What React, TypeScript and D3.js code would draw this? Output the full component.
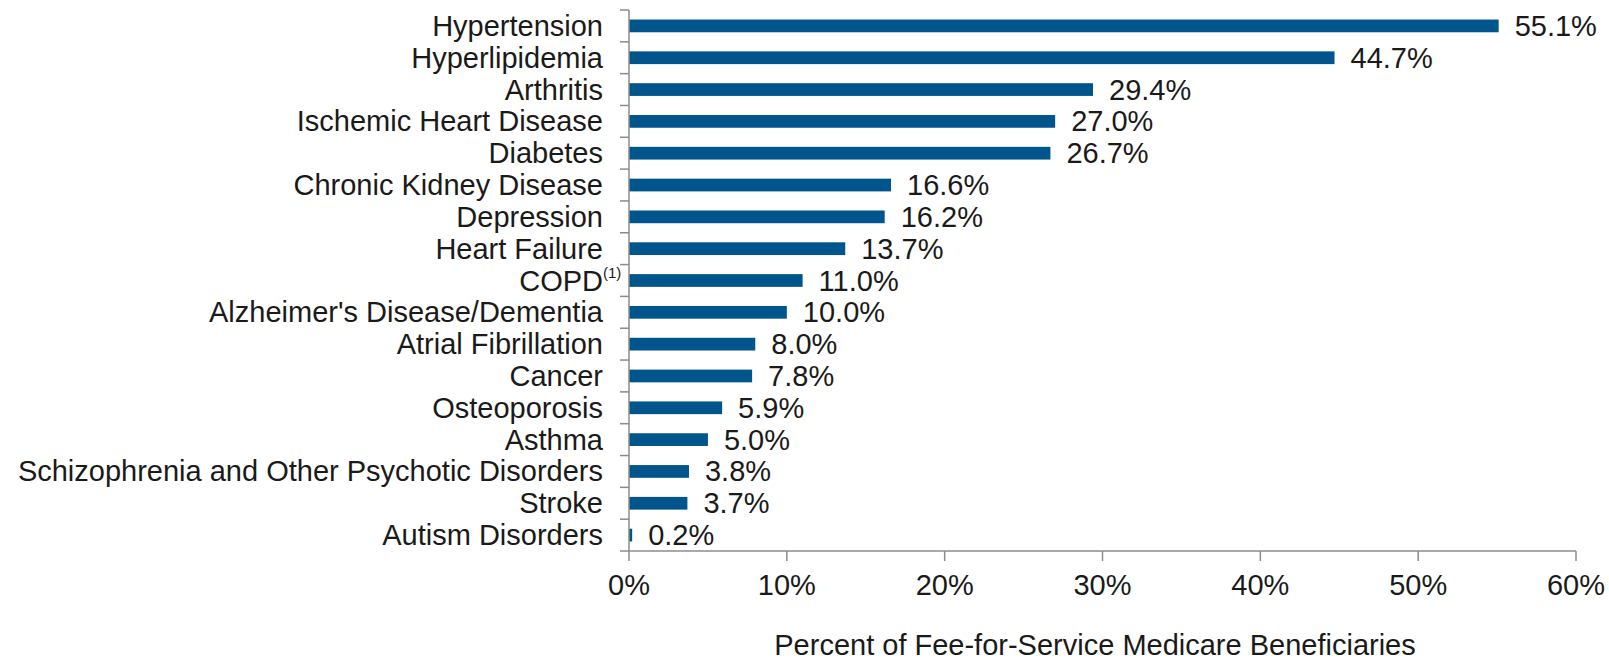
import * as d3 from "d3";
import { useRef, useEffect } from "react";

const conditions = [
  "Hypertension",
  "Hyperlipidemia",
  "Arthritis",
  "Ischemic Heart Disease",
  "Diabetes",
  "Chronic Kidney Disease",
  "Depression",
  "Heart Failure",
  "COPD",
  "Alzheimer's Disease/Dementia",
  "Atrial Fibrillation",
  "Cancer",
  "Osteoporosis",
  "Asthma",
  "Schizophrenia and Other Psychotic Disorders",
  "Stroke",
  "Autism Disorders",
];

const percents = [55.1, 44.7, 29.4, 27.0, 26.7, 16.6, 16.2, 13.7, 11.0, 10.0, 8.0, 7.8, 5.9, 5.0, 3.8, 3.7, 0.2];

const xTicks = [0, 10, 20, 30, 40, 50, 60];

const xTitle = "Percent of Fee-for-Service Medicare Beneficiaries";

const WIDTH = 1609;
const HEIGHT = 662;
const FONT = "'Liberation Sans', Arial, Helvetica, sans-serif";
const BAR = "#00558c";
const AXIS = "#8c8c8c";

function App() {
  const ref = useRef<SVGSVGElement>(null);

  useEffect(() => {
    draw();
  }, []);

  const draw = () => {
    const svg = d3.select(ref.current);
    svg.selectAll("*").remove();

    const left = 629;
    const right = 1576;
    const top = 10;
    const bottom = 551;

    const x = d3.scaleLinear().domain([0, 60]).range([left, right]);
    const y = d3.scaleBand<string>().domain(conditions).range([top, bottom]).padding(0);
    const barH = y.bandwidth() * 0.4;

    // bars
    svg
      .selectAll("rect.bar")
      .data(conditions)
      .join("rect")
      .attr("class", "bar")
      .attr("x", x(0))
      .attr("y", (d) => y(d)! + (y.bandwidth() - barH) / 2)
      .attr("width", (d, i) => x(percents[i]) - x(0))
      .attr("height", barH)
      .attr("fill", BAR);

    // value labels
    svg
      .selectAll("text.val")
      .data(conditions)
      .join("text")
      .attr("class", "val")
      .attr("x", (d, i) => x(percents[i]) + 16)
      .attr("y", (d) => y(d)! + y.bandwidth() / 2 + 10)
      .attr("font-size", 29)
      .attr("fill", "#1a1a1a")
      .text((d, i) => percents[i].toFixed(1) + "%");

    // category labels
    svg
      .selectAll("text.cat")
      .data(conditions)
      .join("text")
      .attr("class", "cat")
      .attr("x", 603)
      .attr("y", (d) => y(d)! + y.bandwidth() / 2 + 10)
      .attr("text-anchor", "end")
      .attr("font-size", 29)
      .attr("fill", "#1a1a1a")
      .text((d) => d);

    // COPD footnote marker
    svg
      .append("text")
      .attr("x", 603)
      .attr("y", y("COPD")! + 13)
      .attr("font-size", 15)
      .attr("fill", "#1a1a1a")
      .text("(1)");

    // y axis line + ticks at band edges
    svg
      .append("line")
      .attr("x1", left)
      .attr("x2", left)
      .attr("y1", top)
      .attr("y2", bottom)
      .attr("stroke", AXIS)
      .attr("stroke-width", 1.5);

    const edges = conditions.map((d) => y(d)!).concat([bottom]);
    svg
      .selectAll("line.ytick")
      .data(edges)
      .join("line")
      .attr("class", "ytick")
      .attr("x1", left - 9)
      .attr("x2", left)
      .attr("y1", (d) => d)
      .attr("y2", (d) => d)
      .attr("stroke", AXIS)
      .attr("stroke-width", 1.5);

    // x axis
    svg
      .append("line")
      .attr("x1", left)
      .attr("x2", right)
      .attr("y1", bottom)
      .attr("y2", bottom)
      .attr("stroke", AXIS)
      .attr("stroke-width", 1.5);

    svg
      .selectAll("line.xtick")
      .data(xTicks)
      .join("line")
      .attr("class", "xtick")
      .attr("x1", (d) => x(d))
      .attr("x2", (d) => x(d))
      .attr("y1", bottom)
      .attr("y2", bottom + 10)
      .attr("stroke", AXIS)
      .attr("stroke-width", 1.5);

    svg
      .selectAll("text.xlab")
      .data(xTicks)
      .join("text")
      .attr("class", "xlab")
      .attr("x", (d) => x(d))
      .attr("y", 595)
      .attr("text-anchor", "middle")
      .attr("font-size", 29)
      .attr("fill", "#1a1a1a")
      .text((d) => d + "%");

    // axis title
    svg
      .append("text")
      .attr("x", 1095)
      .attr("y", 655)
      .attr("text-anchor", "middle")
      .attr("font-size", 29)
      .attr("fill", "#1a1a1a")
      .text(xTitle);
  };

  return (
    <div style={{ position: "absolute", left: 0, top: 0 }}>
      <svg
        ref={ref}
        width={WIDTH}
        height={HEIGHT}
        style={{ display: "block", background: "#fff", fontFamily: FONT }}
      ></svg>
    </div>
  );
}

export default App;
